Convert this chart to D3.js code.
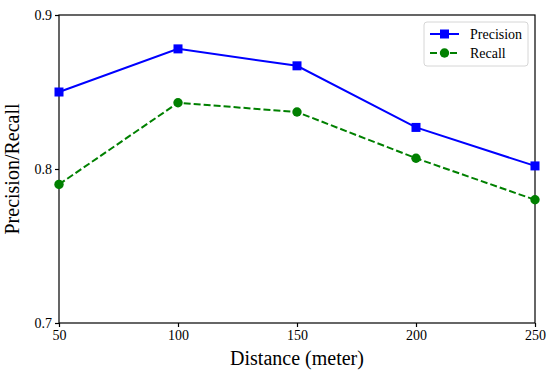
<!DOCTYPE html>
<html>
<head>
<meta charset="utf-8">
<script src="https://cdn.jsdelivr.net/npm/d3@7"></script>
<style>
  body { margin: 0; background: #fff; }
  text { font-family: "Liberation Serif", "Times New Roman", serif; }
</style>
</head>
<body>
<div id="chart"></div>
<script>
  // data
  const distances = [50, 100, 150, 200, 250];
  const precision = [0.850, 0.878, 0.867, 0.827, 0.802];
  const recall = [0.790, 0.843, 0.837, 0.807, 0.780];
  const yTicks = [0.7, 0.8, 0.9];

  const margin = {top: 15, right: 15, bottom: 52, left: 59},
      width = 550 - margin.left - margin.right,
      height = 375 - margin.top - margin.bottom;

  const svg = d3.select("#chart")
    .append("svg")
      .attr("width", 550)
      .attr("height", 375)
    .append("g")
      .attr("transform", `translate(${margin.left},${margin.top})`);

  const x = d3.scaleLinear().domain([50, 250]).range([0, width]);
  const y = d3.scaleLinear().domain([0.7, 0.9]).range([height, 0]);

  // frame
  svg.append("rect")
    .attr("width", width).attr("height", height)
    .attr("fill", "none").attr("stroke", "#000").attr("stroke-width", 1.2);

  const xAxis = svg.append("g")
    .attr("transform", `translate(0,${height})`)
    .call(d3.axisBottom(x).tickValues(distances).tickSize(4).tickPadding(3));
  const yAxis = svg.append("g")
    .call(d3.axisLeft(y).tickValues(yTicks).tickFormat(d3.format(".1f")).tickSize(4).tickPadding(3));
  [xAxis, yAxis].forEach(a => {
    a.select(".domain").remove();
    a.selectAll("line").attr("stroke", "#000").attr("stroke-width", 1.2);
    a.selectAll("text").attr("font-size", 14).attr("fill", "#000")
      .style("font-family", '"Liberation Serif", serif');
  });

  svg.append("text")
    .attr("x", width / 2).attr("y", height + 42)
    .attr("text-anchor", "middle").attr("font-size", 20)
    .text("Distance (meter)");
  svg.append("text")
    .attr("transform", "rotate(-90)")
    .attr("x", -height / 2).attr("y", -40)
    .attr("text-anchor", "middle").attr("font-size", 20)
    .text("Precision/Recall");

  const line = d3.line().x(d => x(d[0])).y(d => y(d[1]));

  // Precision
  const pData = distances.map((d, i) => [d, precision[i]]);
  svg.append("path").datum(pData)
    .attr("d", line).attr("fill", "none")
    .attr("stroke", "#0000ff").attr("stroke-width", 2);
  svg.selectAll(".psq").data(pData).join("rect")
    .attr("x", d => x(d[0]) - 4.5).attr("y", d => y(d[1]) - 4.5)
    .attr("width", 9).attr("height", 9).attr("fill", "#0000ff");

  // Recall
  const rData = distances.map((d, i) => [d, recall[i]]);
  svg.append("path").datum(rData)
    .attr("d", line).attr("fill", "none")
    .attr("stroke", "#008000").attr("stroke-width", 2)
    .attr("stroke-dasharray", "7,3");
  svg.selectAll(".rc").data(rData).join("circle")
    .attr("cx", d => x(d[0])).attr("cy", d => y(d[1]))
    .attr("r", 4.7).attr("fill", "#008000");

  // legend
  const lg = svg.append("g").attr("transform", `translate(${424 - margin.left},${22 - margin.top})`);
  lg.append("rect")
    .attr("width", 104).attr("height", 44).attr("rx", 3)
    .attr("fill", "#fff").attr("stroke", "#d6d6d6");
  lg.append("line").attr("x1", 6).attr("x2", 35).attr("y1", 12).attr("y2", 12)
    .attr("stroke", "#0000ff").attr("stroke-width", 2);
  lg.append("rect").attr("x", 16).attr("y", 7.5).attr("width", 9).attr("height", 9).attr("fill", "#0000ff");
  lg.append("text").attr("x", 46).attr("y", 16.5).attr("font-size", 14).text("Precision");
  lg.append("line").attr("x1", 6).attr("x2", 35).attr("y1", 31).attr("y2", 31)
    .attr("stroke", "#008000").attr("stroke-width", 2).attr("stroke-dasharray", "7,3");
  lg.append("circle").attr("cx", 20.5).attr("cy", 31).attr("r", 4.7).attr("fill", "#008000");
  lg.append("text").attr("x", 46).attr("y", 35.5).attr("font-size", 14).text("Recall");
</script>
</body>
</html>
